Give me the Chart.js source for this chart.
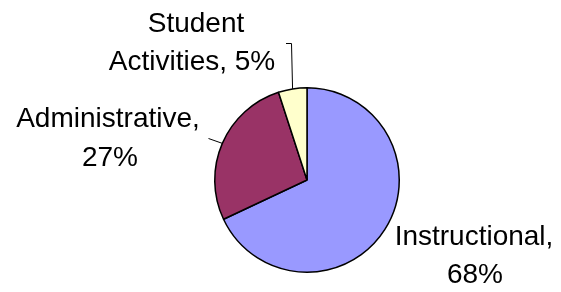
<!DOCTYPE html>
<html>
<head>
<meta charset="utf-8">
<script src="https://cdn.jsdelivr.net/npm/chart.js@4/dist/chart.umd.min.js"></script>
<style>
  html, body { margin: 0; padding: 0; background: #fff; }
  #wrap { width: 561px; height: 292px; position: relative; }
</style>
</head>
<body>
<div id="wrap"><canvas id="pie"></canvas></div>
<script>
// ============ Data ============
const categories = ['Instructional', 'Administrative', 'Student Activities'];
const shares = [68, 27, 5];
const colors = ['#9999FF', '#993366', '#FFFFCC'];

// label placement (text lines, centre x, baseline y)
const labelLines = [
    [['Instructional,', 474, 245], ['68%', 475, 283]],
    [['Administrative,', 108, 127], ['27%', 110, 166]],
    [['Student', 196, 32], ['Activities, 5%', 192, 70]]
];

const pieLabels = {
    id: 'pieLabels',
    afterDatasetsDraw(chart) {
        const ctx = chart.ctx;
        const arcs = chart.getDatasetMeta(0).data;
        ctx.save();
        ctx.fillStyle = '#000';
        ctx.font = '28px "Liberation Sans", Arial, sans-serif';
        ctx.textAlign = 'center';
        ctx.textBaseline = 'alphabetic';
        labelLines.forEach(lines => lines.forEach(([t, x, y]) => ctx.fillText(t, x, y)));

        // leader lines
        ctx.strokeStyle = '#000';
        ctx.lineWidth = 1;
        const edge = (arc) => {
            const mid = (arc.startAngle + arc.endAngle) / 2;
            return [arc.x + Math.cos(mid) * arc.outerRadius, arc.y + Math.sin(mid) * arc.outerRadius];
        };
        // Administrative
        let [ex, ey] = edge(arcs[1]);
        ctx.beginPath();
        ctx.moveTo(208.5, 138.5);
        ctx.lineTo(ex, ey);
        ctx.stroke();
        // Student Activities
        [ex, ey] = edge(arcs[2]);
        ctx.beginPath();
        ctx.moveTo(286, 43.5);
        ctx.lineTo(291.5, 43.5);
        ctx.lineTo(ex, ey);
        ctx.stroke();
        ctx.restore();
    }
};

new Chart(document.getElementById('pie'), {
    type: 'pie',
    data: {
        labels: categories,
        datasets: [{
            data: shares,
            backgroundColor: colors,
            borderColor: '#000',
            borderWidth: 1.5
        }]
    },
    options: {
        responsive: true,
        maintainAspectRatio: false,
        animation: false,
        layout: { padding: { left: 214, right: 161, top: 87, bottom: 19 } },
        plugins: {
            legend: { display: false },
            tooltip: { enabled: false }
        }
    },
    plugins: [pieLabels]
});
</script>
</body>
</html>
